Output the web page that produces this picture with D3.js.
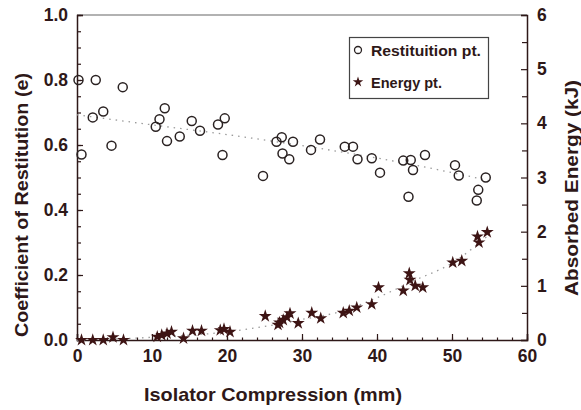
<!DOCTYPE html>
<html><head><meta charset="utf-8">
<script src="https://cdn.jsdelivr.net/npm/d3@7"></script>
<style>
html,body{margin:0;padding:0;background:#fff;}
svg{display:block;font-family:"Liberation Sans",Arial,sans-serif;font-weight:bold;}
</style></head>
<body>
<svg id="chart" width="581" height="410"></svg>
<script>
// ---- data ----
const xTickValues = [0, 10, 20, 30, 40, 50, 60];
const leftTickValues = [0.0, 0.2, 0.4, 0.6, 0.8, 1.0];
const rightTickValues = [0, 1, 2, 3, 4, 5, 6];

const restX = [0.2, 2.5, 6.1, 3.5, 2.1, 4.6, 0.6, 11.7, 11.0, 10.5, 12.0, 13.7, 15.3, 16.4, 18.8, 19.7, 19.4,
  24.8, 27.3, 26.6, 28.8, 27.4, 28.3, 31.2, 32.4, 35.7, 36.8, 37.4, 39.3, 40.4,
  43.5, 44.5, 44.8, 46.4, 44.2, 50.4, 50.9, 54.5, 53.5, 53.3];
const restE = [0.80, 0.80, 0.778, 0.703, 0.685, 0.598, 0.571, 0.713, 0.679, 0.656, 0.612, 0.626, 0.674, 0.644, 0.663, 0.682, 0.569,
  0.505, 0.624, 0.61, 0.61, 0.574, 0.556, 0.585, 0.617, 0.595, 0.595, 0.556, 0.559, 0.515,
  0.552, 0.554, 0.523, 0.569, 0.441, 0.538, 0.506, 0.50, 0.462, 0.429];

const energyX = [0.6, 2.1, 3.5, 4.8, 6.2, 10.7, 11.3, 12.0, 12.6, 14.2, 15.4, 16.6, 19.1, 19.6, 20.4,
  25.1, 26.8, 27.0, 27.5, 28.0, 28.4, 29.5, 31.3, 32.5, 35.5, 36.3, 37.3, 39.3, 40.2,
  43.5, 44.3, 44.4, 45.1, 46.1, 50.1, 51.3, 53.4, 53.6, 54.7];
const energyKJ = [0, 0, 0, 0.05, 0, 0.06, 0.09, 0.12, 0.15, 0.03, 0.17, 0.17, 0.18, 0.2, 0.15,
  0.44, 0.28, 0.32, 0.37, 0.42, 0.49, 0.31, 0.50, 0.40, 0.50, 0.54, 0.60, 0.66, 0.97,
  0.91, 1.23, 1.11, 1.0, 0.97, 1.43, 1.46, 1.91, 1.80, 1.99];

const restFitX = [0, 10, 20, 30, 40, 50, 55];
const restFitE = [0.693, 0.662, 0.632, 0.598, 0.56, 0.515, 0.49];
const energyFitX = [0, 10, 20, 25, 30, 35, 40, 45, 50, 55];
const energyFitKJ = [0, 0.05, 0.15, 0.25, 0.38, 0.52, 0.78, 1.1, 1.42, 1.95];

const legendLabels = ["Restituition pt.", "Energy pt."];

// ---- layout ----
const svg = d3.select("#chart");
const L = 77, R = 527, T = 15, B = 340;
const ink = "#2e1818";
const x = d3.scaleLinear().domain([0, 60]).range([L, R]);
const yL = d3.scaleLinear().domain([0, 1]).range([B, T]);
const yR = d3.scaleLinear().domain([0, 6]).range([B, T]);

// frame top
svg.append("line").attr("x1", L).attr("x2", R).attr("y1", T).attr("y2", T)
  .attr("stroke", "#666").attr("stroke-width", 1.2);

// bottom axis
svg.append("g").attr("transform", `translate(0,${B})`)
  .call(d3.axisBottom(x).tickValues(xTickValues).tickSize(-6).tickPadding(10).tickFormat(d3.format("d")));
svg.append("g").attr("transform", `translate(0,${B})`)
  .call(d3.axisBottom(x).tickValues(d3.range(0, 61, 2)).tickSize(-2.5).tickFormat(""))
  .call(g => g.select(".domain").remove());

// left axis
svg.append("g").attr("transform", `translate(${L},0)`)
  .call(d3.axisLeft(yL).tickValues(leftTickValues).tickSize(-6).tickPadding(9).tickFormat(d3.format(".1f")));
svg.append("g").attr("transform", `translate(${L},0)`)
  .call(d3.axisLeft(yL).tickValues(d3.range(0, 1.001, 0.05)).tickSize(-4).tickFormat(""))
  .call(g => g.select(".domain").remove());

// right axis
svg.append("g").attr("transform", `translate(${R},0)`)
  .call(d3.axisRight(yR).tickValues(rightTickValues).tickSize(-6).tickPadding(10).tickFormat(d3.format("d")));
svg.append("g").attr("transform", `translate(${R},0)`)
  .call(d3.axisRight(yR).tickValues(d3.range(0.5, 6, 1)).tickSize(-5).tickFormat(""))
  .call(g => g.select(".domain").remove());

svg.selectAll(".domain").attr("stroke", ink).attr("stroke-width", 1.5);
svg.selectAll(".tick line").attr("stroke", ink).attr("stroke-width", 1.2);
svg.selectAll(".tick text").attr("fill", ink).attr("font-size", 17.5)
  .attr("font-family", "'Liberation Sans',Arial,sans-serif").attr("font-weight", "bold");

// trend lines
const restLine = d3.line().curve(d3.curveMonotoneX).x(d => x(d[0])).y(d => yL(d[1]));
svg.append("path").datum(restFitX.map((v, i) => [v, restFitE[i]]))
  .attr("d", restLine).attr("fill", "none").attr("stroke", "#9a9a9a")
  .attr("stroke-width", 1.3).attr("stroke-dasharray", "1.5,5");
const enLine = d3.line().curve(d3.curveMonotoneX).x(d => x(d[0])).y(d => yR(d[1]));
svg.append("path").datum(energyFitX.map((v, i) => [v, energyFitKJ[i]]))
  .attr("d", enLine).attr("fill", "none").attr("stroke", "#9a9a9a")
  .attr("stroke-width", 1.3).attr("stroke-dasharray", "1.5,5");

// points
svg.append("g").selectAll("circle").data(restX.map((v, i) => [v, restE[i]])).join("circle")
  .attr("cx", d => x(d[0])).attr("cy", d => yL(d[1])).attr("r", 4.5)
  .attr("fill", "none").attr("stroke", "#2a2222").attr("stroke-width", 1.5);

const star = d3.symbol().type(d3.symbolStar).size(52);
svg.append("g").selectAll("path").data(energyX.map((v, i) => [v, energyKJ[i]])).join("path")
  .attr("transform", d => `translate(${x(d[0])},${yR(d[1])})`)
  .attr("d", star).attr("fill", "#3d1414");

// legend
const lg = svg.append("g");
lg.append("rect").attr("x", 349.5).attr("y", 37.5).attr("width", 139).attr("height", 61)
  .attr("fill", "#fff").attr("stroke", "#444").attr("stroke-width", 1.2);
lg.append("circle").attr("cx", 358).attr("cy", 50).attr("r", 3.5)
  .attr("fill", "none").attr("stroke", "#2a2222").attr("stroke-width", 1.3);
lg.append("path").attr("transform", "translate(358,82)").attr("d", d3.symbol().type(d3.symbolStar).size(34)).attr("fill", "#3d1414");
lg.selectAll("text").data(legendLabels).join("text")
  .attr("x", 371).attr("y", (d, i) => 55.5 + i * 32)
  .attr("font-size", 15).attr("fill", ink)
  .attr("textLength", (d, i) => i === 0 ? 110 : 71).attr("lengthAdjust", "spacingAndGlyphs")
  .text(d => d);

// axis titles
svg.append("text").attr("x", 273).attr("y", 401).attr("text-anchor", "middle")
  .attr("font-size", 19).attr("fill", ink).attr("textLength", 258).attr("lengthAdjust", "spacingAndGlyphs")
  .text("Isolator Compression (mm)");
svg.append("text").attr("transform", "translate(28,205) rotate(-90)").attr("text-anchor", "middle")
  .attr("font-size", 19).attr("fill", ink).attr("textLength", 264).attr("lengthAdjust", "spacingAndGlyphs")
  .text("Coefficient of Restitution (e)");
svg.append("text").attr("transform", "translate(578,188) rotate(-90)").attr("text-anchor", "middle")
  .attr("font-size", 19).attr("fill", ink).attr("textLength", 216).attr("lengthAdjust", "spacingAndGlyphs")
  .text("Absorbed Energy (kJ)");
</script>
</body></html>
